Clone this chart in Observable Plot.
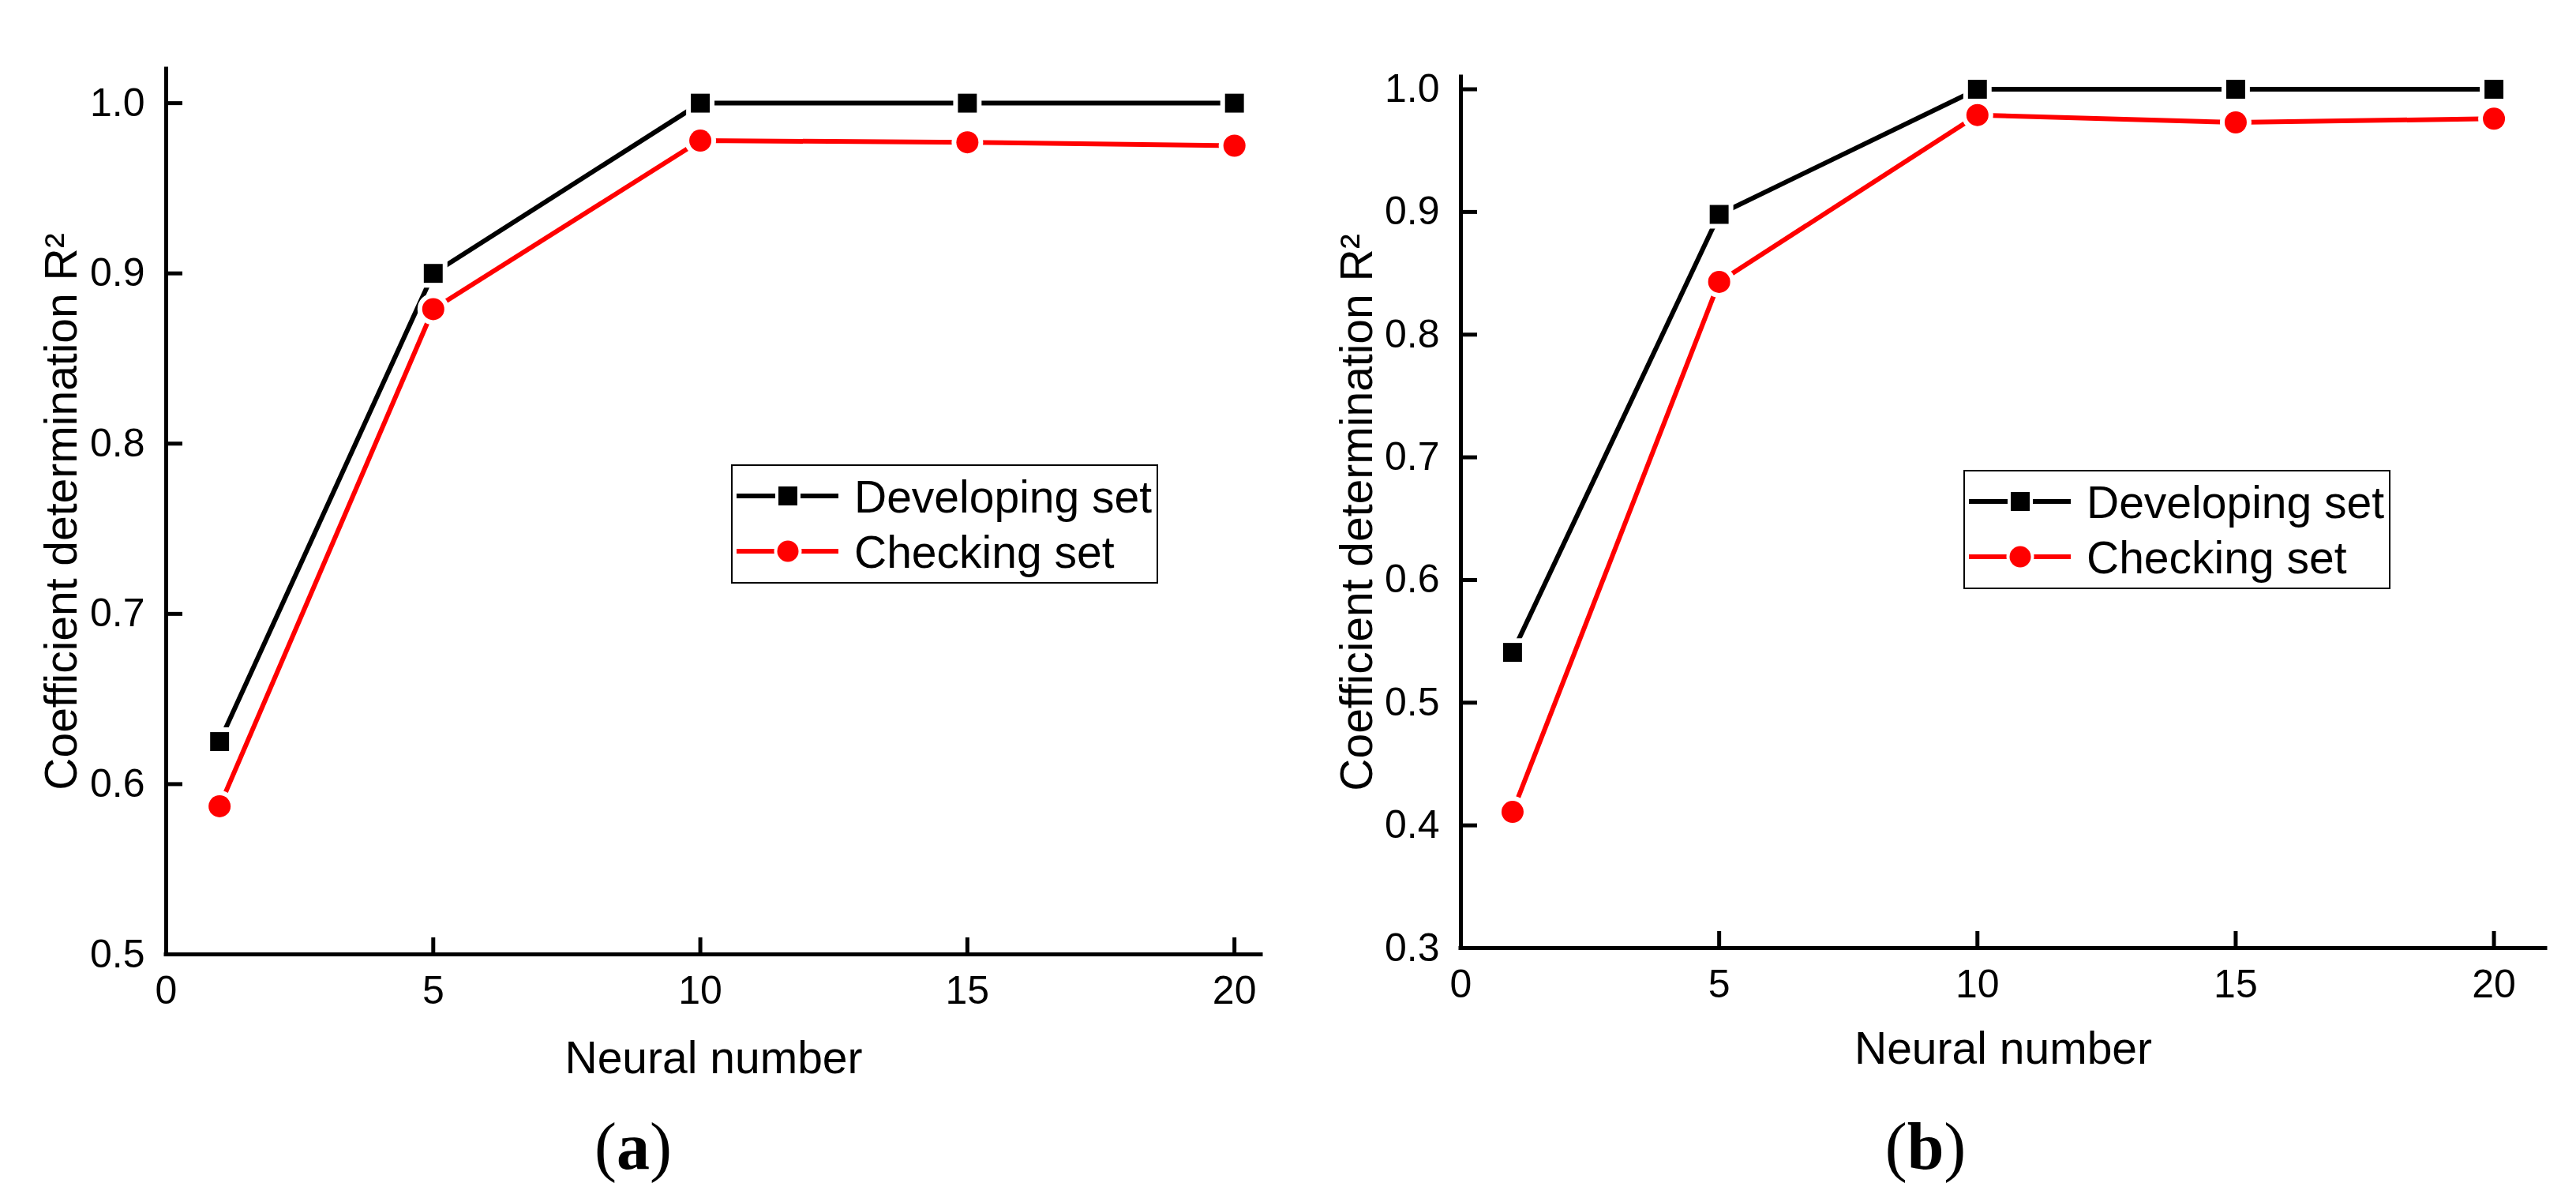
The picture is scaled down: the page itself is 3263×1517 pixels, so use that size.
<!DOCTYPE html>
<html>
<head>
<meta charset="utf-8">
<script src="https://cdn.jsdelivr.net/npm/d3@7"></script>
<script src="https://cdn.jsdelivr.net/npm/@observablehq/plot@0.6"></script>
<style>
html, body { margin: 0; padding: 0; background: #ffffff; }
#root { position: relative; width: 3263px; height: 1517px; overflow: hidden; background: #ffffff;
        font-family: "Liberation Sans", Arial, sans-serif; }
.panel { position: absolute; top: 0; }
.overlay { position: absolute; left: 0; top: 0; }
</style>
</head>
<body>
<div id="root"></div>
<script>
// ---------------- data ----------------
const neurons = [1, 5, 10, 15, 20];
const developingA = [0.625, 0.900, 1.000, 1.000, 1.000];
const checkingA   = [0.587, 0.879, 0.978, 0.977, 0.975];
const developingB = [0.541, 0.898, 1.000, 1.000, 1.000];
const checkingB   = [0.411, 0.843, 0.979, 0.973, 0.976];
const seriesNames = ["Developing set", "Checking set"];
const seriesColors = ["#000000", "#ff0000"];
const seriesSymbols = ["square", "circle"];
const xTicks = [0, 5, 10, 15, 20];
const yTicksA = [0.5, 0.6, 0.7, 0.8, 0.9, 1.0];
const yTicksB = [0.3, 0.4, 0.5, 0.6, 0.7, 0.8, 0.9, 1.0];
const xLabel = "Neural number";
const yLabel = "Coefficient determination R\u00B2";
const panelCaptions = ["a", "b"];

const FONT = "'Liberation Sans', Arial, sans-serif";
const root = document.getElementById("root");

function rowsFor(values) {
  return neurons.map((n, i) => ({x: n, y: values[i]}));
}

function makePanel(cfg) {
  const dev = rowsFor(cfg.dev);
  const chk = rowsFor(cfg.chk);
  const series = [dev, chk];
  const sizes = [13.5, 14];
  const marks = [
    Plot.ruleX([cfg.xDomain[0]], {stroke: "#000", strokeWidth: 5, strokeLinecap: "square"}),
    Plot.ruleY([cfg.yDomain[0]], {stroke: "#000", strokeWidth: 5, strokeLinecap: "square"}),
    Plot.axisX(xTicks, {anchor: "bottom", tickSize: -21, tickPadding: 48, strokeWidth: 5,
      fontSize: 50, label: null, tickFormat: d => String(d)}),
    Plot.axisY(cfg.yTicks, {anchor: "left", tickSize: -21, tickPadding: 48, strokeWidth: 5,
      fontSize: 50, label: null, tickFormat: d3.format(".1f")}),
  ];
  series.forEach((s, k) => {
    marks.push(Plot.line(s, {x: "x", y: "y", stroke: seriesColors[k], strokeWidth: 6}));
  });
  series.forEach((s, k) => {
    marks.push(Plot.dot(s, {x: "x", y: "y", symbol: seriesSymbols[k], r: sizes[k],
      fill: "#ffffff", stroke: "#ffffff", strokeWidth: 12}));
  });
  series.forEach((s, k) => {
    marks.push(Plot.dot(s, {x: "x", y: "y", symbol: seriesSymbols[k], r: sizes[k],
      fill: seriesColors[k], stroke: "none"}));
  });
  marks.push(Plot.text([yLabel], {text: d => d, frameAnchor: "left", dx: cfg.yLabelDx,
    rotate: -90, textAnchor: "middle", lineAnchor: "middle", fontSize: 57, fill: "#000"}));
  marks.push(Plot.text([xLabel], {text: d => d, frameAnchor: "bottom", dy: cfg.xLabelDy,
    textAnchor: "middle", lineAnchor: "middle", fontSize: 57, fill: "#000"}));

  const svg = Plot.plot({
    width: cfg.width, height: 1517,
    marginLeft: cfg.mL, marginRight: cfg.mR, marginTop: cfg.mT, marginBottom: cfg.mB,
    x: {domain: cfg.xDomain},
    y: {domain: cfg.yDomain},
    style: {fontFamily: FONT, background: "transparent", color: "#000", overflow: "visible"},
    marks
  });
  svg.classList.add("panel");
  svg.style.left = cfg.left + "px";
  root.appendChild(svg);
}

function makeLegend(left, top) {
  const W = 541, H = 151;
  const svg = d3.create("svg").attr("width", W).attr("height", H)
    .style("position", "absolute").style("left", left + "px").style("top", top + "px");
  svg.append("rect").attr("x", 1).attr("y", 1).attr("width", W - 2).attr("height", H - 2)
    .attr("fill", "#fff").attr("stroke", "#000").attr("stroke-width", 2);
  const rowsY = [40, 110];
  seriesNames.forEach((name, k) => {
    const cy = rowsY[k];
    svg.append("line").attr("x1", 7).attr("x2", 136).attr("y1", cy).attr("y2", cy)
      .attr("stroke", seriesColors[k]).attr("stroke-width", 6);
    const sym = d3.symbol().type(k === 0 ? d3.symbolSquare : d3.symbolCircle)
      .size(k === 0 ? 24 * 24 : Math.PI * 13.5 * 13.5);
    svg.append("path").attr("d", sym()).attr("transform", `translate(72,${cy})`)
      .attr("fill", "#fff").attr("stroke", "#fff").attr("stroke-width", 8);
    svg.append("path").attr("d", sym()).attr("transform", `translate(72,${cy})`)
      .attr("fill", seriesColors[k]);
    svg.append("text").attr("x", 156).attr("y", cy + 20.5).text(name)
      .attr("font-family", FONT).attr("font-size", 57).attr("fill", "#000");
  });
  root.appendChild(svg.node());
}

makePanel({left: 0, width: 1631, mL: 210, mR: 34, mT: 87, mB: 309,
  xDomain: [0, 20.5], yDomain: [0.5, 1.02], yTicks: yTicksA,
  dev: developingA, chk: checkingA, xLabelDy: 132, yLabelDx: -132});
makePanel({left: 1631, width: 1632, mL: 219, mR: 39, mT: 97, mB: 317,
  xDomain: [0, 21], yDomain: [0.3, 1.01], yTicks: yTicksB,
  dev: developingB, chk: checkingB, xLabelDy: 128, yLabelDx: -131});

makeLegend(926, 588);
makeLegend(2487, 595);

// captions (a), (b)
const cap = d3.create("svg").attr("class", "overlay").attr("width", 3263).attr("height", 1517)
  .style("pointer-events", "none");
[[802, 1480], [2439, 1480]].forEach(([x, y], i) => {
  const t = cap.append("text").attr("x", x).attr("y", y).attr("text-anchor", "middle")
    .attr("font-family", "'Liberation Serif', 'Times New Roman', serif").attr("font-size", 84).attr("fill", "#000");
  t.append("tspan").text("(");
  t.append("tspan").attr("font-weight", "bold").text(panelCaptions[i]);
  t.append("tspan").text(")");
});
root.appendChild(cap.node());
</script>
</body>
</html>
